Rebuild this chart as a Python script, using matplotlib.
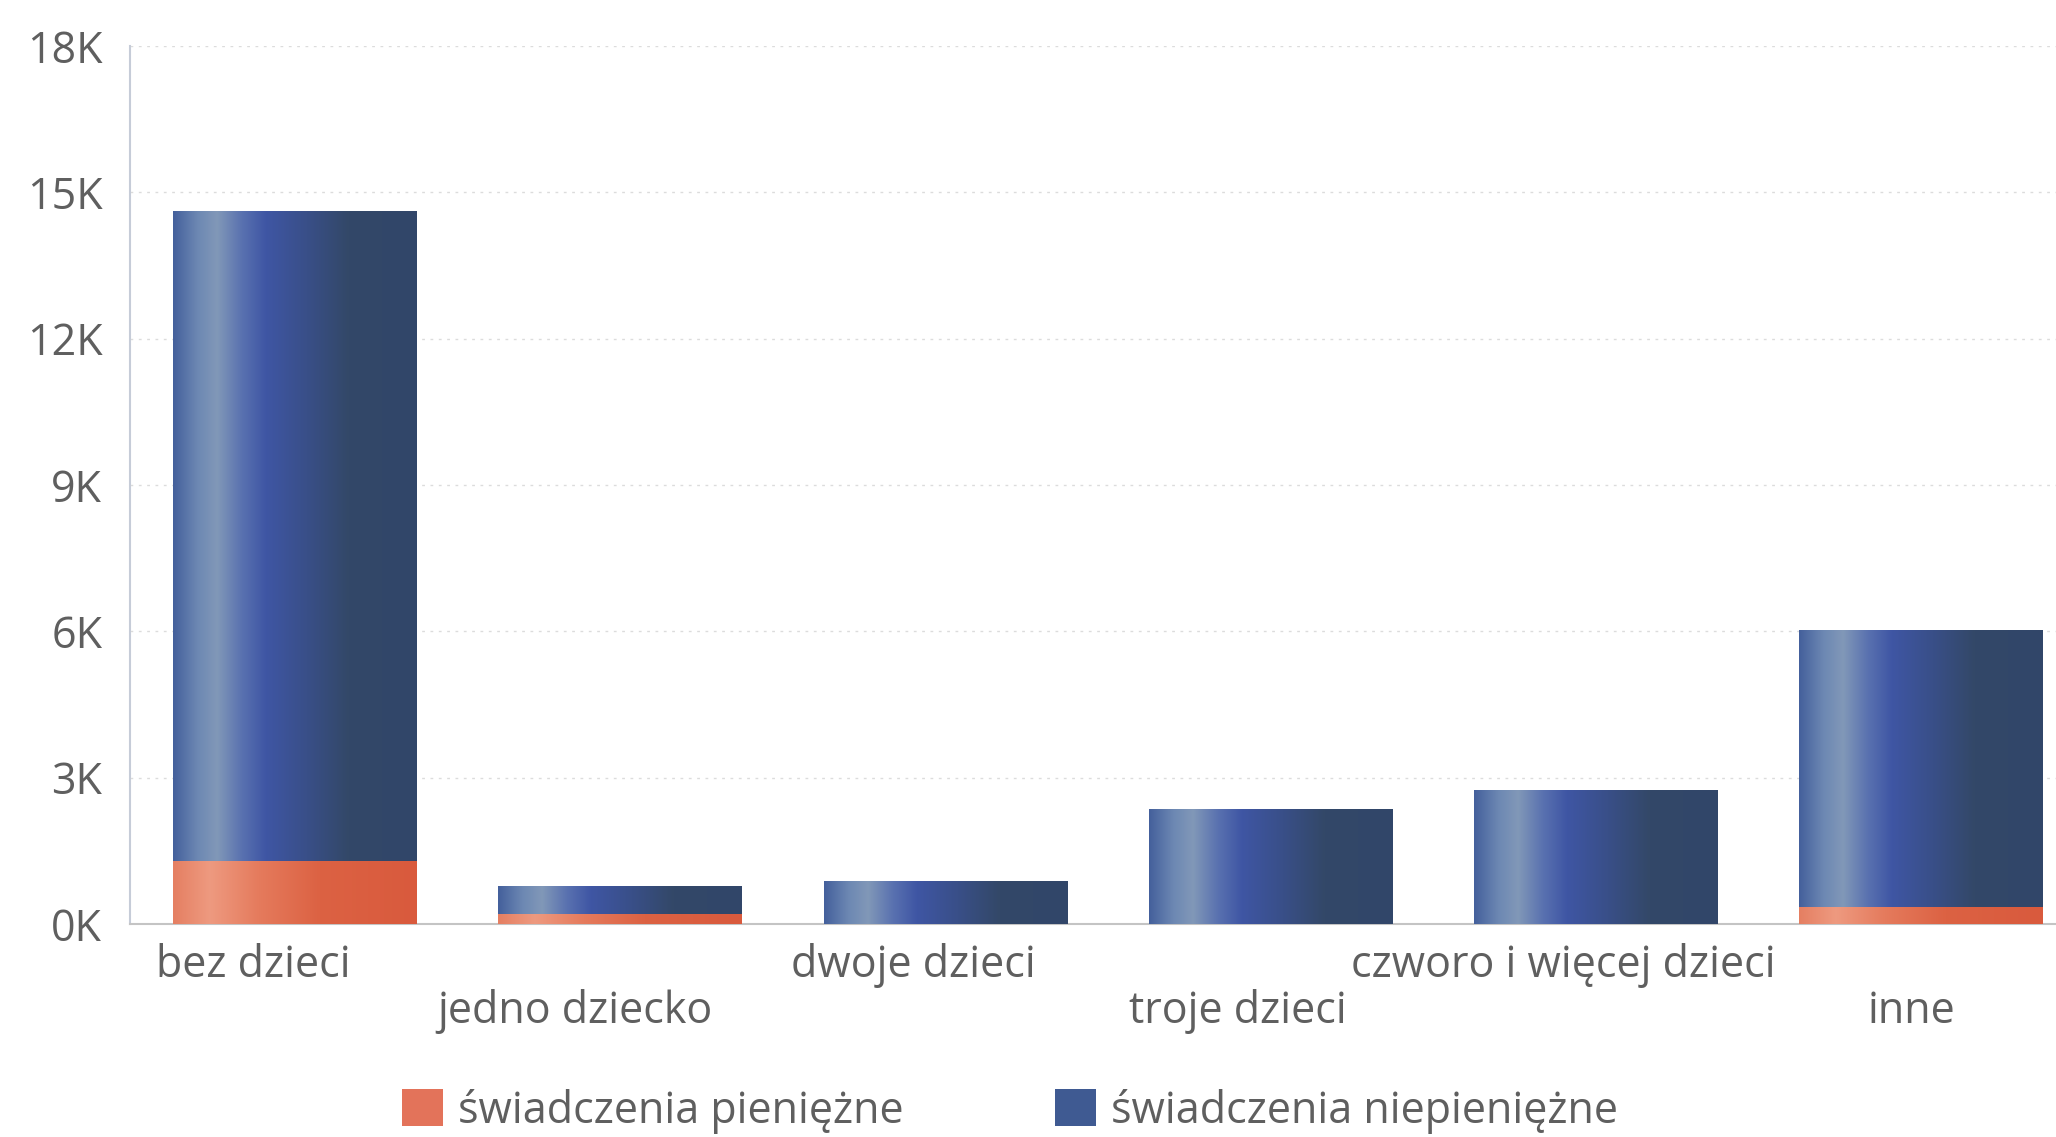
import numpy as np
import matplotlib
matplotlib.use("Agg")
import matplotlib.pyplot as plt
from matplotlib.colors import LinearSegmentedColormap
from matplotlib.patches import Patch

# ---- data ----
categories = ["bez dzieci", "jedno dziecko", "dwoje dzieci", "troje dzieci",
              "czworo i więcej dzieci", "inne"]
pieniezne = [1290, 210, 0, 0, 0, 350]
niepieniezne = [13320, 570, 890, 2360, 2740, 5670]
series_names = ["świadczenia pieniężne", "świadczenia niepieniężne"]
yticks = [0, 3000, 6000, 9000, 12000, 15000, 18000]
yticklabels = ["0K", "3K", "6K", "9K", "12K", "15K", "18K"]

# ---- style ----
plt.rcParams['font.family'] = ['Open Sans', 'DejaVu Sans']
TXT = '#5f5f5f'
FS = 31
blue_cmap = LinearSegmentedColormap.from_list('b', [
    (0.0, '#44609c'), (0.10, '#6d88b3'), (0.18, '#8198b8'), (0.28, '#5a72b0'),
    (0.38, '#3f56a4'), (0.55, '#394f88'), (0.72, '#334868'), (1.0, '#31466a')])
orange_cmap = LinearSegmentedColormap.from_list('o', [
    (0.0, '#e57f62'), (0.15, '#ee9a80'), (0.35, '#e57b5d'), (0.6, '#dc6243'),
    (1.0, '#d95a3d')])

fig = plt.figure(figsize=(20.56, 11.37), dpi=100)
ax = fig.add_axes([130/2056, (1137-924)/1137, 1 - 130/2056, (924-46)/1137])

x = np.arange(len(categories))
width = 0.75
bars_o = ax.bar(x, pieniezne, width, color='#e06a4c', label=series_names[0], zorder=2)
bars_b = ax.bar(x, niepieniezne, width, bottom=pieniezne, color='#3d5590',
                label=series_names[1], zorder=2)

ax.set_xlim(-0.508, 5.415)
ax.set_ylim(0, 18000)

grad = np.linspace(0, 1, 256).reshape(1, -1)
for bars, cmap in ((bars_o, orange_cmap), (bars_b, blue_cmap)):
    for p in bars:
        if p.get_height() <= 0:
            continue
        x0, y0 = p.get_x(), p.get_y()
        im = ax.imshow(grad, cmap=cmap, aspect='auto', interpolation='bicubic',
                       extent=(x0, x0 + p.get_width(), y0, y0 + p.get_height()),
                       zorder=3)
        im.set_clip_path(p)
ax.set_xlim(-0.508, 5.415)
ax.set_ylim(0, 18000)

ax.set_yticks(yticks)
ax.set_yticklabels(yticklabels)
ax.tick_params(axis='y', length=0, pad=20, labelsize=FS, labelcolor=TXT)
ax.set_xticks([])
for t in yticks[1:]:
    ax.axhline(t, color='#dcdcdc', lw=1.0, ls=(0, (2, 4)), zorder=1)

for s in ('top', 'right'):
    ax.spines[s].set_visible(False)
ax.spines['left'].set_color('#c6ccd8')
ax.spines['left'].set_linewidth(1.5)
ax.spines['bottom'].set_color('#c4c4c4')
ax.spines['bottom'].set_linewidth(1.5)

# staggered category labels
row_y = [-42/878, -88/878]
label_dx = [-0.13, -0.14, -0.10, -0.10, -0.10, -0.03]
trans = ax.get_xaxis_transform()
for i, lab in enumerate(categories):
    ax.text(x[i] + label_dx[i], row_y[i % 2], lab, transform=trans, ha='center',
            va='center', fontsize=FS, color=TXT, clip_on=False)

handles = [Patch(facecolor='#e3735a', edgecolor='none'),
           Patch(facecolor='#3f5a92', edgecolor='none')]
fig.legend(handles, series_names, loc='center', bbox_to_anchor=(1010/2056, (1137-1111)/1137),
           ncol=2, frameon=False, fontsize=FS, labelcolor=TXT, handlelength=0.95,
           handleheight=0.95, handletextpad=0.35, columnspacing=3.5, borderpad=0)

fig.savefig('out.png', dpi=100, facecolor='white')
